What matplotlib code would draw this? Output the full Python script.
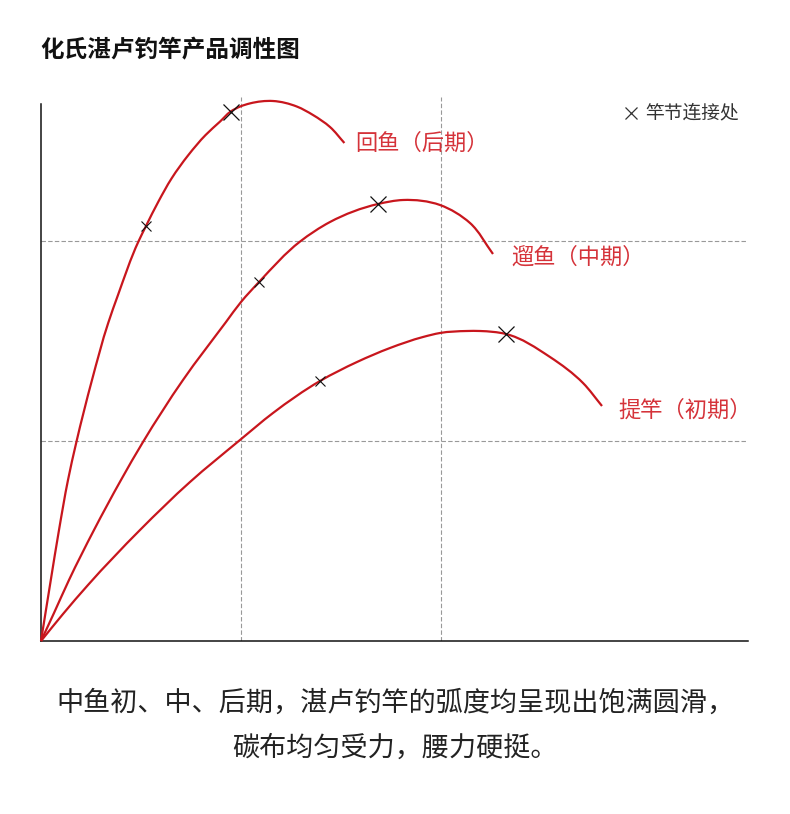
import matplotlib
matplotlib.use("Agg")
import matplotlib.pyplot as plt
import numpy as np
from matplotlib.lines import Line2D
from matplotlib.path import Path
from matplotlib.patches import PathPatch

plt.rcParams['font.family'] = ['Noto Sans CJK SC', 'DejaVu Sans']

# ---- data (units: one grid cell = 1) ----
late_x = [0, 0.049, 0.09, 0.135, 0.177, 0.255, 0.336, 0.385, 0.487, 0.525, 0.587, 0.653, 0.737, 0.823, 0.895, 0.948, 0.995, 1.045, 1.16, 1.28, 1.36, 1.445, 1.517]
late_y = [0, 0.305, 0.555, 0.805, 0.995, 1.305, 1.59, 1.73, 1.997, 2.075, 2.197, 2.313, 2.43, 2.53, 2.597, 2.647, 2.672, 2.688, 2.70, 2.672, 2.63, 2.57, 2.49]

mid_x = [0, 0.065, 0.14, 0.265, 0.40, 0.51, 0.71, 0.925, 1.0, 1.092, 1.295, 1.445, 1.685, 1.81, 1.995, 2.145, 2.26]
mid_y = [0, 0.14, 0.305, 0.555, 0.805, 0.995, 1.305, 1.595, 1.695, 1.797, 1.997, 2.095, 2.185, 2.205, 2.18, 2.09, 1.935]

early_x = [0, 0.11, 0.235, 0.495, 0.745, 0.995, 1.16, 1.395, 1.58, 1.745, 1.91, 1.995, 2.13, 2.195, 2.325, 2.545, 2.71, 2.805]
early_y = [0, 0.135, 0.28, 0.555, 0.795, 1.005, 1.14, 1.30, 1.395, 1.465, 1.52, 1.54, 1.55, 1.55, 1.535, 1.42, 1.29, 1.175]

# joint markers: (small joint, large joint)
late_jx = [0.525, 0.948]
late_jy = [2.075, 2.647]
mid_jx = [1.092, 1.685]
mid_jy = [1.797, 2.185]
early_jx = [1.395, 2.325]
early_jy = [1.30, 1.535]

labels = ['回鱼（后期）', '遛鱼（中期）', '提竿（初期）']
title = '化氏湛卢钓竿产品调性图'
legend_text = '竿节连接处'
caption = ['中鱼初、中、后期，湛卢钓竿的弧度均呈现出饱满圆滑，', '碳布均匀受力，腰力硬挺。']

W, H = 790, 814
fig = plt.figure(figsize=(W / 100, H / 100), dpi=100)
fig.patch.set_facecolor('white')


def fx(px):
    return px / W


def fy(py):
    return 1 - py / H


ax = fig.add_axes([fx(41), fy(641), (748 - 41) / W, 544 / H])
ax.set_xlim(0, 3.535)
ax.set_ylim(0, 2.72)
for s in ['top', 'right']:
    ax.spines[s].set_visible(False)
for s in ['left', 'bottom']:
    ax.spines[s].set_color('#111111')
    ax.spines[s].set_linewidth(1.1)
ax.spines['left'].set_bounds(0, 2.685)
ax.set_xticks([])
ax.set_yticks([])

for g in [1, 2]:
    ax.axvline(g, color='#999999', lw=0.8, ls=(0, (4, 2)), zorder=1)
    ax.axhline(g, color='#999999', lw=0.8, ls=(0, (4, 2)), zorder=1)


def smooth_path(xs, ys):
    """Smooth cubic curve through the given points (chord-length Bessel tangents)."""
    P = np.column_stack([xs, ys]).astype(float)
    n = len(P)
    seg = P[1:] - P[:-1]
    d = np.hypot(seg[:, 0], seg[:, 1])
    unit = seg / d[:, None]
    T = np.zeros_like(P)
    T[0] = unit[0]
    T[-1] = unit[-1]
    for i in range(1, n - 1):
        T[i] = (d[i] * unit[i - 1] + d[i - 1] * unit[i]) / (d[i - 1] + d[i])
    verts = [P[0]]
    codes = [Path.MOVETO]
    for i in range(n - 1):
        c1 = P[i] + T[i] * d[i] / 3.0
        c2 = P[i + 1] - T[i + 1] * d[i] / 3.0
        verts += [c1, c2, P[i + 1]]
        codes += [Path.CURVE4] * 3
    return Path(np.array(verts), codes)


red = '#c8161d'
for xs, ys in [(late_x, late_y), (mid_x, mid_y), (early_x, early_y)]:
    patch = PathPatch(smooth_path(xs, ys), facecolor='none', edgecolor=red, lw=1.6,
                      capstyle='butt', zorder=3, clip_on=False)
    ax.add_patch(patch)

for jx, jy in [(late_jx, late_jy), (mid_jx, mid_jy), (early_jx, early_jy)]:
    ax.plot(jx[0], jy[0], marker='x', color='#111111', ms=7, mew=0.8, ls='none', zorder=4, clip_on=False)
    ax.plot(jx[1], jy[1], marker='x', color='#111111', ms=11, mew=0.9, ls='none', zorder=4, clip_on=False)

label_color = '#d5333a'
label_pos = [(355, 143), (511, 257), (618, 410)]
for t, (px, py) in zip(labels, label_pos):
    fig.text(fx(px), fy(py), t, color=label_color, fontsize=16, ha='left', va='center')

fig.text(fx(40), fy(50), title, fontsize=17, fontweight='bold', color='#111111', ha='left', va='center')

fig.add_artist(Line2D([fx(631)], [fy(113)], marker='x', color='#333333', ms=9, mew=0.9,
                      transform=fig.transFigure))
fig.text(fx(645), fy(113), legend_text, fontsize=13.5, color='#333333', ha='left', va='center')

fig.text(fx(395), fy(703), caption[0], fontsize=19.5, color='#222222', ha='center', va='center')
fig.text(fx(395), fy(748), caption[1], fontsize=19.5, color='#222222', ha='center', va='center')

fig.savefig('out.png', dpi=100, facecolor='white')
